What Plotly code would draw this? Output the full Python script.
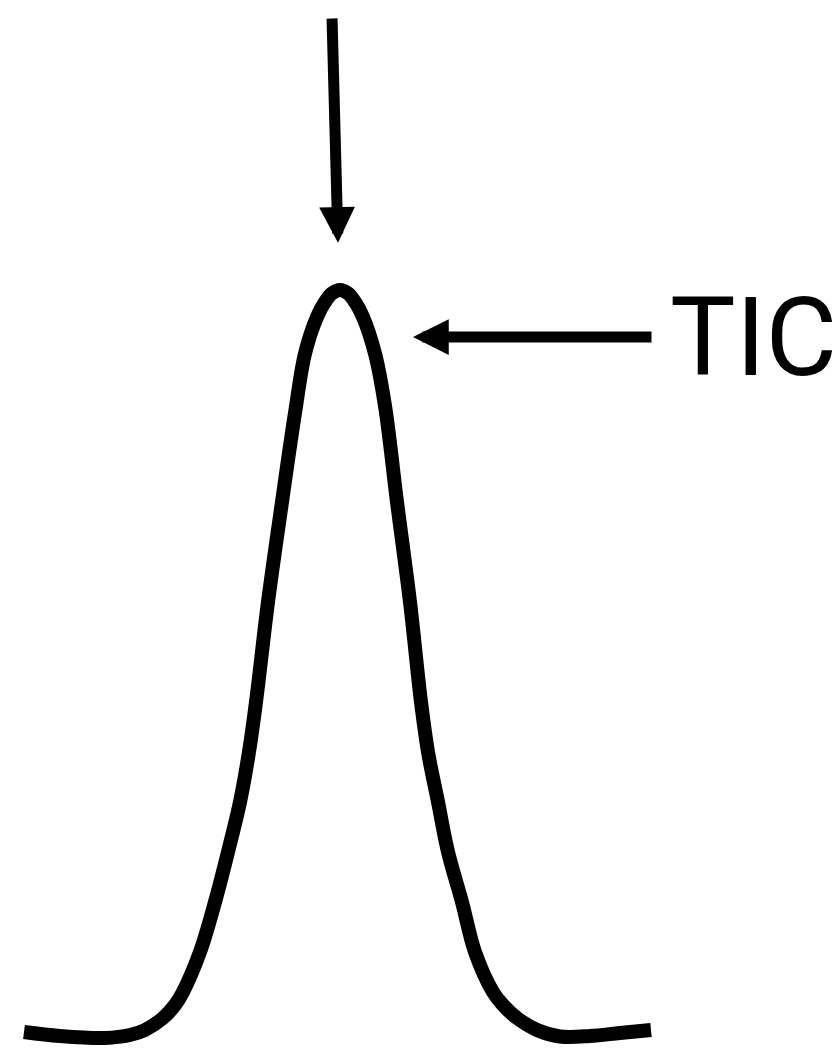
import plotly.graph_objects as go

# chromatogram peak (time in min, intensity in % of apex)
time = [0.24, 0.60, 1.05, 1.30, 1.45, 1.63, 1.75, 1.83, 2.00, 2.15, 2.28, 2.40,
        2.49, 2.56, 2.68, 2.82, 2.95, 3.05, 3.17, 3.25, 3.32, 3.40, 3.48, 3.55, 3.63,
        3.75, 3.85, 3.97, 4.10, 4.21, 4.28, 4.38, 4.48, 4.62, 4.75, 4.93, 5.03, 5.17,
        5.37, 5.60, 5.90, 6.20, 6.51]
intensity = [0.80, 0.27, 0.0, 0.40, 1.07, 2.67, 4.41, 6.15, 11.50, 18.18, 24.87, 31.55,
             38.24, 44.92, 58.29, 71.66, 83.56, 91.5, 96.4, 98.4, 99.55, 100.0, 99.55, 98.4, 96.4,
             91.5, 84.5, 71.66, 58.29, 44.92, 38.24, 31.55, 24.87, 18.18, 11.50, 6.15, 4.41, 2.67,
             1.07, 0.20, 0.27, 0.67, 1.07]

label = "TIC"

fig = go.Figure()
fig.add_trace(go.Scatter(
    x=time, y=intensity, mode="lines",
    line=dict(color="black", width=14, shape="spline", smoothing=1.0),
    hoverinfo="skip", cliponaxis=False,
))

# arrow pointing down at the apex
fig.add_annotation(x=3.38, y=106.3, ax=3.32, ay=136.5, axref="x", ayref="y",
                   text="", showarrow=True, arrowhead=2, arrowsize=0.65,
                   arrowwidth=11, arrowcolor="black", standoff=0)
# arrow from the label to the trace
fig.add_annotation(x=4.13, y=93.7, ax=6.53, ay=93.7, axref="x", ayref="y",
                   text="", showarrow=True, arrowhead=2, arrowsize=0.65,
                   arrowwidth=11, arrowcolor="black", standoff=0)
fig.add_annotation(x=6.68, y=93.6, text=label, showarrow=False,
                   xanchor="left", yanchor="middle",
                   font=dict(family="Roboto", size=110, color="black"))

fig.update_xaxes(range=[0, 8.37], visible=False)
fig.update_yaxes(range=[-1.34, 138.77], visible=False)
fig.update_layout(width=837, height=1048, margin=dict(l=0, r=0, t=0, b=0),
                  plot_bgcolor="white", paper_bgcolor="white", showlegend=False)

# drop the default page margin so the figure sits at the window corner
fig.write_html("out.html", config={"displayModeBar": False},
               post_script="document.body.style.margin='0';")
